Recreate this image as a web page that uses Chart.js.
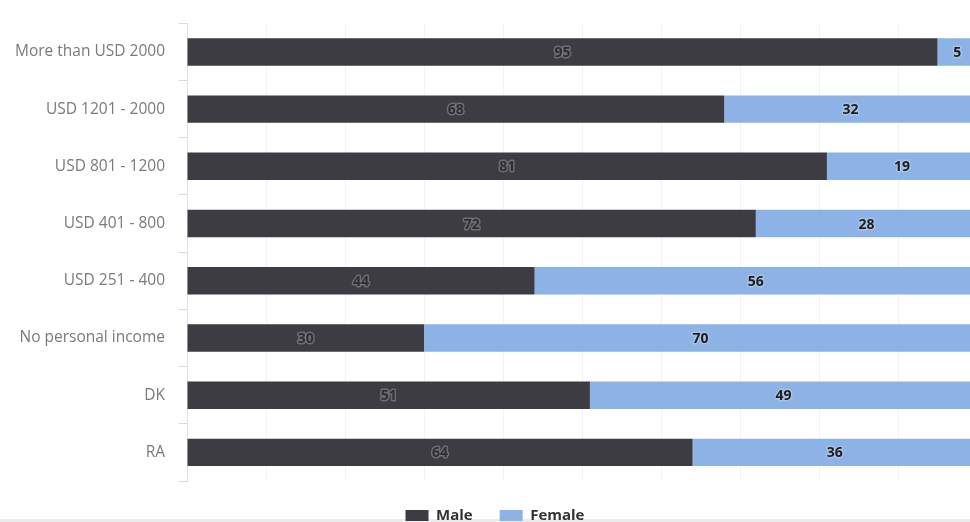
<!DOCTYPE html>
<html>
<head>
<meta charset="utf-8">
<script src="https://cdn.jsdelivr.net/npm/chart.js@4"></script>
<style>
  html, body { margin: 0; padding: 0; background: #fff; overflow: hidden; }
  #wrap { position: relative; z-index: 1; width: 990px; height: 522px; }
  #strip { position: absolute; z-index: 0; left: 0; top: 519px; width: 970px; height: 3px; background: #ececec; }
</style>
</head>
<body>
<div id="wrap"><canvas id="incomeChart"></canvas></div>
<div id="strip"></div>
<script>
const categories = [
  "More than USD 2000",
  "USD 1201 - 2000",
  "USD 801 - 1200",
  "USD 401 - 800",
  "USD 251 - 400",
  "No personal income",
  "DK",
  "RA"
];
const maleValues = [95, 68, 81, 72, 44, 30, 51, 64];
const femaleValues = [5, 32, 19, 28, 56, 70, 49, 36];

// Draw the value inside each bar segment
const barLabels = {
  id: "barLabels",
  afterDatasetsDraw(chart) {
    const ctx = chart.ctx;
    ctx.save();
    ctx.font = "bold 14px 'Open Sans', sans-serif";
    ctx.textAlign = "center";
    ctx.textBaseline = "middle";
    ctx.lineJoin = "round";
    chart.data.datasets.forEach((ds, i) => {
      const meta = chart.getDatasetMeta(i);
      meta.data.forEach((bar, j) => {
        const cx = (bar.x + bar.base) / 2;
        const text = String(ds.data[j]);
        if (i === 0) {
          ctx.lineWidth = 3;
          ctx.strokeStyle = "rgba(130,130,135,0.7)";
          ctx.fillStyle = "#2e2e32";
        } else {
          ctx.lineWidth = 3;
          ctx.strokeStyle = "rgba(170,195,230,0.9)";
          ctx.fillStyle = "#1e1e1e";
        }
        ctx.strokeText(text, cx, bar.y + 1);
        ctx.fillText(text, cx, bar.y + 1);
      });
    });
    ctx.restore();
  }
};

new Chart(document.getElementById("incomeChart"), {
  type: "bar",
  data: {
    labels: categories,
    datasets: [
      {
        label: "Male",
        data: maleValues,
        backgroundColor: "#3d3c42",
        borderWidth: 0,
        barPercentage: 0.96,
        categoryPercentage: 0.5
      },
      {
        label: "Female",
        data: femaleValues,
        backgroundColor: "#8cb2e6",
        borderWidth: 0,
        barPercentage: 0.96,
        categoryPercentage: 0.5
      }
    ]
  },
  options: {
    indexAxis: "y",
    responsive: true,
    maintainAspectRatio: false,
    animation: false,
    layout: { padding: { top: 16, right: 13, left: 13, bottom: -11 } },
    scales: {
      x: {
        stacked: true,
        min: 0,
        max: 100,
        ticks: { display: false, stepSize: 10 },
        grid: { color: "rgba(0,0,0,0.05)", drawTicks: false },
        border: { display: false }
      },
      y: {
        stacked: true,
        afterFit: (scale) => { scale.width = 174; },
        ticks: {
          color: "#7a7a7a",
          padding: 14,
          font: { family: "'Open Sans', sans-serif", size: 15.5 }
        },
        grid: {
          drawOnChartArea: false,
          drawTicks: true,
          tickLength: 8,
          color: "#d8d8d8",
          offset: true
        },
        border: { display: true, color: "#e0e0e0" }
      }
    },
    plugins: {
      tooltip: { enabled: false },
      legend: {
        position: "bottom",
        labels: {
          boxWidth: 23,
          boxHeight: 11,
          padding: 27,
          color: "#333",
          font: { family: "'Open Sans', sans-serif", size: 15, weight: "bold" }
        }
      }
    }
  },
  plugins: [barLabels]
});
</script>
</body>
</html>
